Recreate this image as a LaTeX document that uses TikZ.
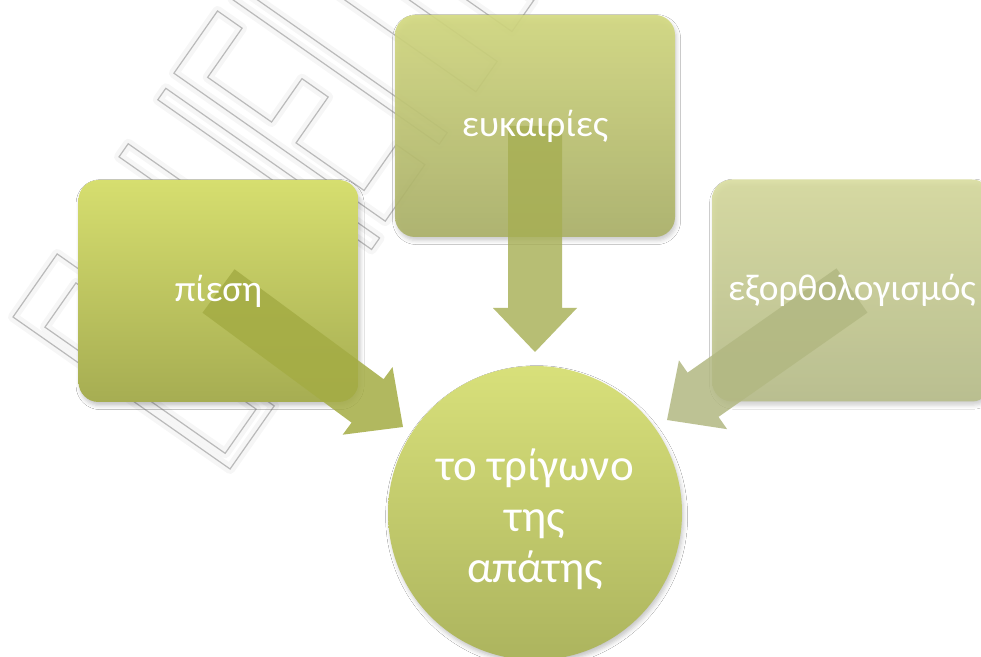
\documentclass[tikz,border=0pt]{standalone}
\usepackage{fontspec}
\setmainfont{Carlito}
\usetikzlibrary{calc,shadows.blur}
\definecolor{pTop}{HTML}{D6DE6F}
\definecolor{pBot}{HTML}{A6AD52}
\definecolor{eTop}{HTML}{D3D97F}
\definecolor{eBot}{HTML}{ABB168}
\definecolor{xTop}{HTML}{D7DB9A}
\definecolor{xBot}{HTML}{B6BC86}
\definecolor{cTop}{HTML}{D8E07A}
\definecolor{cBot}{HTML}{ACB45E}
\definecolor{aL}{HTML}{A4AC44}
\definecolor{aD}{HTML}{A6AE52}
\definecolor{aR}{HTML}{B2B882}
\newcommand\fatarrow[3]{%
  \fill[#1] let \p1=(#2), \p2=(#3), \n1={atan2(\y2-\y1,\x2-\x1)} in
    ($(\p1)+(\n1+90:13.5pt)$)
    -- ($(\p2)+(\n1+180:22pt)+(\n1+90:13.5pt)$)
    -- ($(\p2)+(\n1+180:22pt)+(\n1+90:21pt)$)
    -- (\p2)
    -- ($(\p2)+(\n1+180:22pt)+(\n1-90:21pt)$)
    -- ($(\p2)+(\n1+180:22pt)+(\n1-90:13.5pt)$)
    -- ($(\p1)+(\n1-90:13.5pt)$) -- cycle;}
\tikzset{
  wm/.style={draw=black!27, line width=0.6pt},
  wmhalo/.style={draw=black, draw opacity=0.035, line width=5pt, line join=round},
  softshadow/.style={blur shadow={shadow xshift=0.8pt, shadow yshift=-1.8pt,
    shadow blur radius=2pt, shadow opacity=22}},
  sbox/.style={rounded corners=10pt, minimum width=140pt, minimum height=111pt,
    inner sep=0pt, softshadow},
  lbl/.style={text=white, font=\fontsize{18.7}{22}\selectfont, inner sep=0pt},
  circ/.style={circle, minimum size=147pt, inner sep=0pt, top color=cTop,
    bottom color=cBot, softshadow},
  arrL/.style={fill=aL, fill opacity=0.85},
  arrD/.style={fill=aD, fill opacity=0.8},
  arrR/.style={fill=aR, fill opacity=0.85}
}
\begin{document}
\begin{tikzpicture}[x=0.5pt,y=-0.5pt]
\useasboundingbox (0,0) rectangle (981,657);
\fill[white] (0,0) rectangle (981,657);
% watermark
\begin{scope}[shift={(13,317)}, rotate=-35]
  \foreach \s in {wmhalo,wm}{
    \draw[\s] (0,-77) rectangle (265,0);
    \draw[\s] (32,-64) rectangle (252,-10);
    \draw[\s] (-5,-208) rectangle (255,-192);
    \draw[\s] (-6,-275) rectangle (255,-261);
    \draw[\s] (-8,-292) -- (-8,-368) -- (22,-368) -- (22,-308) -- (100,-308)
      -- (100,-361) -- (132,-361) -- (132,-305) -- (215,-305) -- (215,-361)
      -- (250,-361) -- (250,-292) -- cycle;
    \draw[\s] (-2,-400) rectangle (250,-386);
    \draw[\s] (-10,-487) rectangle (250,-450);
    \draw[\s] (-10,-558) rectangle (245,-520);
  }
\end{scope}
% boxes
\node[sbox, top color=pTop, bottom color=pBot] (pies) at (218.5,291) {};
\node[sbox, top color=eTop, bottom color=eBot, fill opacity=0.9] (euk) at (535,126) {};
\node[sbox, top color=xTop, bottom color=xBot, fill opacity=0.85] (exo) at (852,290.5) {};
\node[circ] (trig) at (535,513) {};
% arrow tips
\coordinate (tipL) at (403,427);
\coordinate (tipD) at (535,352);
\coordinate (tipR) at (667,420);
\fatarrow{arrL}{pies.center}{tipL}
\fatarrow{arrD}{euk.center}{tipD}
\fatarrow{arrR}{exo.center}{tipR}
% labels
\node[lbl] (piesT) at (pies.center) {πίεση};
\node[lbl] (eukT) at (euk.center) {ευκαιρίες};
\node[lbl] (exoT) at (exo.center) {εξορθολογισμός};
\node[lbl, font=\fontsize{22.5}{25.5}\selectfont, align=center] (trigT)
  at ($(trig.center)+(0,6)$) {το τρίγωνο\\της\\απάτης};
\end{tikzpicture}
\end{document}
